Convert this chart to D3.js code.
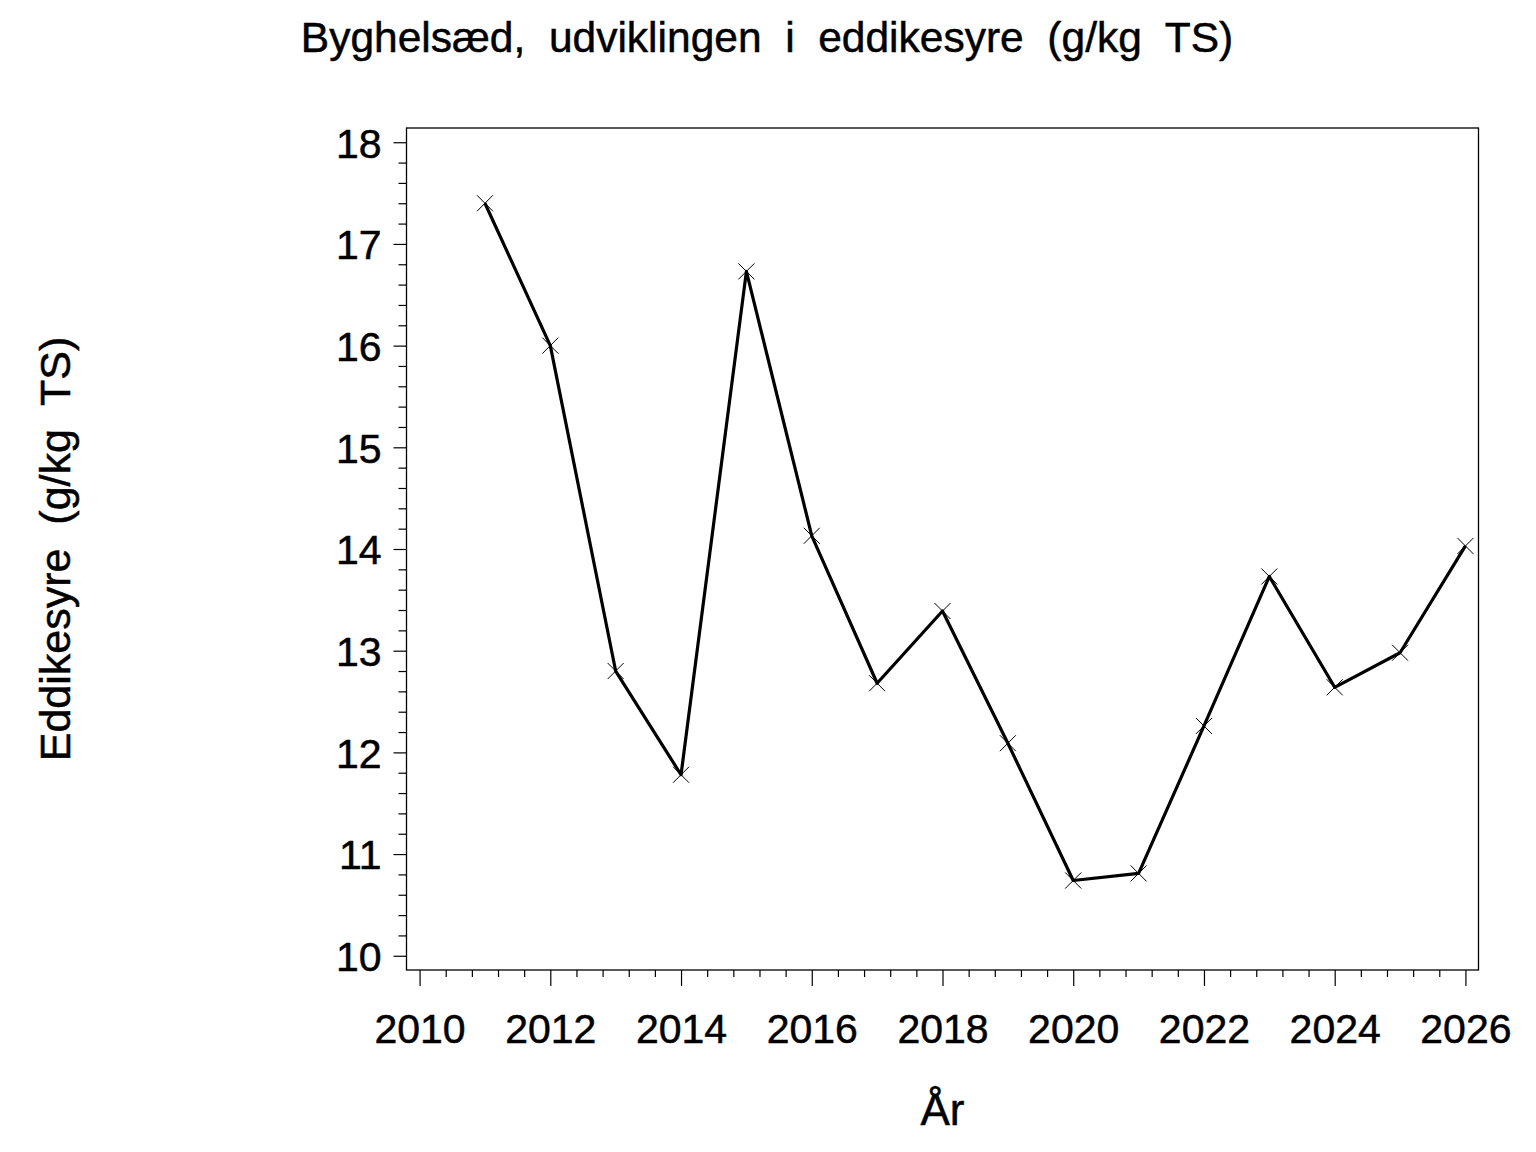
<!DOCTYPE html>
<html>
<head>
<meta charset="utf-8">
<script src="https://cdn.jsdelivr.net/npm/d3@7"></script>
<style>
  body { margin: 0; background: #fff; }
  text { font-family: "Liberation Sans", Arial, sans-serif; fill: #000; stroke: #000; stroke-width: 0.5px; }
</style>
</head>
<body>
<script>

// data
const years = [2011, 2012, 2013, 2014, 2015, 2016, 2017, 2018, 2019, 2020, 2021, 2022, 2023, 2024, 2025, 2026];
const eddikesyre = [17.40, 16.00, 12.80, 11.78, 16.73, 14.13, 12.68, 13.39, 12.09, 10.74, 10.81, 12.26, 13.73, 12.64, 12.98, 14.03];
const xTicks = [2010, 2012, 2014, 2016, 2018, 2020, 2022, 2024, 2026];
const yTicks = [10, 11, 12, 13, 14, 15, 16, 17, 18];

const titleText = "Byghelsæd,  udviklingen  i  eddikesyre  (g/kg  TS)";
const xLabel = "År";
const yLabel = "Eddikesyre  (g/kg  TS)";

var w = 1536;
var h = 1152;

const plot = {left: 406.5, right: 1478.5, top: 128, bottom: 970};

const svg = d3.select("body").append("svg")
    .attr("width", w)
    .attr("height", h);

const data = years.map((y, i) => ({year: y, val: eddikesyre[i]}));

const xScale = d3.scaleLinear()
    .domain([2009.8, 2026.2])
    .range([plot.left, plot.right]);

const yScale = d3.scaleLinear()
    .domain([9.86, 18.14])
    .range([plot.bottom, plot.top]);

// minor ticks: 0.4 yr on x, 0.2 on y
const xMinor = d3.range(0, 41).map(i => 2010 + i * 0.4)
    .filter(v => Math.abs(v / 2 - Math.round(v / 2)) > 1e-6 && v <= 2026.001);
const yMinor = d3.range(0, 41).map(i => 10 + i * 0.2)
    .filter(v => Math.abs(v - Math.round(v)) > 1e-6);

// y axis
svg.append("g")
    .attr("transform", "translate(" + plot.left + ",0)")
    .call(d3.axisLeft(yScale).tickValues(yMinor).tickSize(8).tickFormat(""))
    .call(g => g.select(".domain").remove());

svg.append("g")
    .attr("class", "yaxis")
    .attr("transform", "translate(" + plot.left + ",0)")
    .call(d3.axisLeft(yScale).tickValues(yTicks).tickSize(13).tickPadding(12).tickFormat(d3.format("d")))
    .call(g => g.select(".domain").remove())
    .selectAll("text")
    .style("font-size", "41px")
    .attr("dy", "0.36em");

// x axis
svg.append("g")
    .attr("transform", "translate(0," + plot.bottom + ")")
    .call(d3.axisBottom(xScale).tickValues(xMinor).tickSize(7).tickFormat(""))
    .call(g => g.select(".domain").remove());

svg.append("g")
    .attr("class", "xaxis")
    .attr("transform", "translate(0," + plot.bottom + ")")
    .call(d3.axisBottom(xScale).tickValues(xTicks).tickSize(16).tickPadding(28).tickFormat(d3.format("d")))
    .call(g => g.select(".domain").remove())
    .selectAll("text")
    .style("font-size", "41px");

svg.selectAll(".tick line").attr("stroke", "#000").attr("stroke-width", 1.2);
svg.selectAll(".tick text").attr("fill", "#000");

// frame
svg.append("rect")
    .attr("x", plot.left)
    .attr("y", plot.top)
    .attr("width", plot.right - plot.left)
    .attr("height", plot.bottom - plot.top)
    .attr("fill", "none")
    .attr("stroke", "#000")
    .attr("stroke-width", 1.3);

// line
const line = d3.line()
    .x(d => xScale(d.year))
    .y(d => yScale(d.val));

svg.append("path")
    .datum(data)
    .attr("d", line)
    .attr("fill", "none")
    .attr("stroke", "#000")
    .attr("stroke-width", 3.2)
    .attr("stroke-linejoin", "round");

// x markers
const s = 8;
svg.selectAll(".marker")
    .data(data)
    .enter()
    .append("path")
    .attr("class", "marker")
    .attr("d", d => {
        const cx = xScale(d.year), cy = yScale(d.val);
        return "M" + (cx - s) + "," + (cy - s) + "L" + (cx + s) + "," + (cy + s) +
               "M" + (cx - s) + "," + (cy + s) + "L" + (cx + s) + "," + (cy - s);
    })
    .attr("stroke", "#000")
    .attr("stroke-width", 1)
    .attr("fill", "none");

// title + axis labels
svg.append("text")
    .attr("x", 767)
    .attr("y", 52)
    .attr("text-anchor", "middle")
    .style("font-size", "42.5px")
    .style("white-space", "pre")
    .text(titleText);

svg.append("text")
    .attr("x", (plot.left + plot.right) / 2)
    .attr("y", 1125)
    .attr("text-anchor", "middle")
    .style("font-size", "44px")
    .text(xLabel);

svg.append("text")
    .attr("transform", "translate(70," + ((plot.top + plot.bottom) / 2) + ") rotate(-90)")
    .attr("text-anchor", "middle")
    .style("font-size", "43px")
    .style("white-space", "pre")
    .text(yLabel);

</script>
</body>
</html>
